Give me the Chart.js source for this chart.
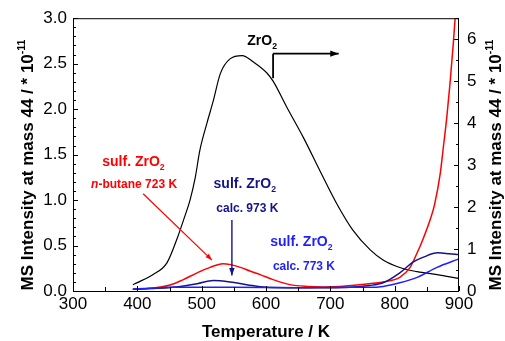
<!DOCTYPE html>
<html>
<head>
<meta charset="utf-8">
<script src="https://cdn.jsdelivr.net/npm/chart.js@4.4.1/dist/chart.umd.min.js"></script>
<style>
  html, body { margin: 0; padding: 0; background: #fff; }
</style>
</head>
<body>
<canvas id="chart" width="505" height="341"></canvas>
<script>
// ZrO2 (right axis)
const zrTemp = [393, 400, 424, 446, 463, 472, 482, 490, 497, 508, 518, 529, 544, 563, 580, 601, 611, 633, 658, 684, 710, 735, 762, 782, 808, 835, 866, 899]
const zrValue = [0.15, 0.20, 0.39, 0.67, 1.30, 1.70, 2.17, 2.70, 3.34, 3.99, 4.53, 5.18, 5.53, 5.61, 5.46, 5.20, 5.00, 4.36, 3.66, 2.86, 2.08, 1.45, 0.98, 0.74, 0.56, 0.46, 0.39, 0.30]

// sulf. ZrO2, n-butane 723 K (left axis)
const butTemp = [393, 420, 451, 470, 493, 513, 533, 545, 560, 575, 591, 611, 637, 664, 690, 715, 741, 760, 782, 808, 824, 835, 844, 855, 862, 871, 875, 881, 886, 891, 894, 898]
const butValue = [0.02, 0.03, 0.066, 0.12, 0.20, 0.26, 0.30, 0.29, 0.26, 0.22, 0.18, 0.125, 0.07, 0.05, 0.045, 0.05, 0.065, 0.08, 0.10, 0.15, 0.26, 0.42, 0.57, 0.78, 0.95, 1.30, 1.54, 1.91, 2.28, 2.71, 3.0, 3.3]

// sulf. ZrO2, calc. 973 K (left axis)
const c973Temp = [393, 430, 460, 493, 518, 544, 570, 600, 650, 700, 731, 760, 782, 808, 829, 844, 867, 885, 899]
const c973Value = [0.02, 0.03, 0.045, 0.08, 0.115, 0.10, 0.07, 0.04, 0.035, 0.035, 0.04, 0.06, 0.09, 0.20, 0.32, 0.37, 0.42, 0.41, 0.40]

// sulf. ZrO2, calc. 773 K (left axis)
const c773Temp = [393, 420, 450, 550, 650, 720, 760, 782, 808, 835, 866, 899]
const c773Value = [0.02, 0.03, 0.04, 0.04, 0.035, 0.04, 0.04, 0.05, 0.09, 0.15, 0.26, 0.35]

const xTicks = [300, 400, 500, 600, 700, 800, 900]
const yLeftTicks = [0, 0.5, 1.0, 1.5, 2.0, 2.5, 3.0]
const yRightTicks = [0, 1, 2, 3, 4, 5, 6]

const FONT = '"Liberation Sans", Arial, sans-serif'
const RED = '#ff0000'
const NAVY = '#141489'
const BLUE = '#1e1eff'

const toPoints = (xs, ys) => xs.map((x, i) => ({ x, y: ys[i] }))

// draw a run of text parts (normal / sub / sup / italic) starting at x
function drawParts(ctx, parts, x, y, size, color, align) {
  const widths = parts.map(p => {
    const s = p.sub || p.sup ? size * 0.62 : size
    ctx.font = `${p.italic ? 'italic ' : ''}bold ${s}px ${FONT}`
    return ctx.measureText(p.t).width
  })
  const total = widths.reduce((a, b) => a + b, 0)
  let cx = align === 'center' ? x - total / 2 : x
  ctx.fillStyle = color
  ctx.textBaseline = 'alphabetic'
  ctx.textAlign = 'left'
  parts.forEach((p, i) => {
    const s = p.sub || p.sup ? size * 0.62 : size
    ctx.font = `${p.italic ? 'italic ' : ''}bold ${s}px ${FONT}`
    let dy = 0
    if (p.sub) dy = size * 0.28
    if (p.sup) dy = -size * 0.45
    ctx.fillText(p.t, cx, y + dy)
    cx += widths[i]
  })
}

function arrow(ctx, x1, y1, x2, y2, color, width, head) {
  ctx.save()
  ctx.strokeStyle = color
  ctx.fillStyle = color
  ctx.lineWidth = width
  ctx.beginPath()
  ctx.moveTo(x1, y1)
  ctx.lineTo(x2, y2)
  ctx.stroke()
  const a = Math.atan2(y2 - y1, x2 - x1)
  ctx.beginPath()
  ctx.moveTo(x2, y2)
  ctx.lineTo(x2 - head * Math.cos(a - 0.35), y2 - head * Math.sin(a - 0.35))
  ctx.lineTo(x2 - head * Math.cos(a + 0.35), y2 - head * Math.sin(a + 0.35))
  ctx.closePath()
  ctx.fill()
  ctx.restore()
}

const decorations = {
  id: 'decorations',
  afterDraw(chart) {
    const ctx = chart.ctx
    const { x, y, y2 } = chart.scales
    const area = chart.chartArea
    ctx.save()

    // frame
    ctx.strokeStyle = '#000'
    ctx.lineWidth = 1
    ctx.strokeRect(area.left + 0.5, area.top + 0.5, area.right - area.left - 1, area.bottom - area.top)

    // inward ticks
    ctx.beginPath()
    for (let t = 300; t <= 900; t += 50) {
      const px = Math.round(x.getPixelForValue(t)) + 0.5
      ctx.moveTo(px, area.bottom)
      ctx.lineTo(px, area.bottom - (t % 100 === 0 ? 5 : 4))
    }
    for (let k = 0; k <= 30; k++) {
      const py = Math.round(y.getPixelForValue(k / 10)) + 0.5
      ctx.moveTo(area.left, py)
      ctx.lineTo(area.left + (k % 5 === 0 ? 5 : 3), py)
    }
    for (let k = 0; k <= 13; k++) {
      const py = Math.round(y2.getPixelForValue(k / 2)) + 0.5
      ctx.moveTo(area.right, py)
      ctx.lineTo(area.right - (k % 2 === 0 ? 5 : 3), py)
    }
    ctx.stroke()

    // axis titles
    const titleParts = [{ t: 'MS Intensity at mass 44 / * 10' }, { t: '-11', sup: true }]
    ctx.save()
    ctx.translate(33, 165)
    ctx.rotate(-Math.PI / 2)
    drawParts(ctx, titleParts, 0, 0, 17, '#000', 'center')
    ctx.restore()
    ctx.save()
    ctx.translate(501, 165)
    ctx.rotate(-Math.PI / 2)
    drawParts(ctx, titleParts, 0, 0, 17, '#000', 'center')
    ctx.restore()
    drawParts(ctx, [{ t: 'Temperature / K' }], (area.left + area.right) / 2, 337, 17, '#000', 'center')

    // annotations (positioned in data units)
    const X = v => x.getPixelForValue(v)
    const Y = v => y.getPixelForValue(v)

    drawParts(ctx, [{ t: 'ZrO' }, { t: '2', sub: true }], X(594), Y(2.70), 14, '#000', 'center')
    ctx.strokeStyle = '#000'
    ctx.lineWidth = 1.8
    ctx.beginPath()
    ctx.moveTo(X(611), Y(2.34))
    ctx.lineTo(X(611), Y(2.61))
    ctx.stroke()
    arrow(ctx, X(611), Y(2.61), X(713), Y(2.61), '#000', 1.8, 9)

    drawParts(ctx, [{ t: 'sulf. ZrO' }, { t: '2', sub: true }], X(394), Y(1.37), 14, RED, 'center')
    drawParts(ctx, [{ t: 'n', italic: true }, { t: '-butane 723 K' }], X(395), Y(1.13), 12, RED, 'center')
    arrow(ctx, X(409), Y(1.07), X(516), Y(0.34), RED, 1.2, 7)

    drawParts(ctx, [{ t: 'sulf. ZrO' }, { t: '2', sub: true }], X(567), Y(1.13), 14, NAVY, 'center')
    drawParts(ctx, [{ t: 'calc. 973 K' }], X(571), Y(0.87), 12, NAVY, 'center')
    arrow(ctx, X(547), Y(0.78), X(547), Y(0.17), NAVY, 1.4, 8)

    drawParts(ctx, [{ t: 'sulf. ZrO' }, { t: '2', sub: true }], X(655), Y(0.49), 14, BLUE, 'center')
    drawParts(ctx, [{ t: 'calc. 773 K' }], X(659), Y(0.23), 12, BLUE, 'center')

    ctx.restore()
  }
}

const lineStyle = { pointRadius: 0, cubicInterpolationMode: 'monotone', fill: false }
const noGrid = { display: false, drawTicks: false }

new Chart(document.getElementById('chart'), {
  type: 'line',
  data: {
    datasets: [
      { ...lineStyle, label: 'calc. 773 K', data: toPoints(c773Temp, c773Value), borderColor: BLUE, borderWidth: 1.5, yAxisID: 'y' },
      { ...lineStyle, label: 'calc. 973 K', data: toPoints(c973Temp, c973Value), borderColor: NAVY, borderWidth: 1.5, yAxisID: 'y' },
      { ...lineStyle, label: 'n-butane 723 K', data: toPoints(butTemp, butValue), borderColor: RED, borderWidth: 1.5, yAxisID: 'y' },
      { ...lineStyle, label: 'ZrO2', data: toPoints(zrTemp, zrValue), borderColor: '#000', borderWidth: 1.2, yAxisID: 'y2' }
    ]
  },
  options: {
    responsive: false,
    animation: false,
    layout: { padding: { top: 17, left: 0, right: 0, bottom: 0 } },
    plugins: { legend: { display: false }, tooltip: { enabled: false } },
    scales: {
      x: {
        type: 'linear', min: 300, max: 900,
        afterBuildTicks: s => { s.ticks = xTicks.map(v => ({ value: v })) },
        afterFit: s => { s.height = 50 },
        grid: noGrid,
        border: { display: false },
        ticks: { color: '#000', padding: 3, maxRotation: 0, font: { family: FONT, size: 17 } }
      },
      y: {
        min: 0, max: 3,
        afterBuildTicks: s => { s.ticks = yLeftTicks.map(v => ({ value: v })) },
        afterFit: s => { s.width = 73 },
        grid: noGrid,
        border: { display: false },
        ticks: { color: '#000', padding: 6, callback: v => v.toFixed(1), font: { family: FONT, size: 17 } }
      },
      y2: {
        position: 'right', min: 0, max: 6.5,
        afterBuildTicks: s => { s.ticks = yRightTicks.map(v => ({ value: v })) },
        afterFit: s => { s.width = 46 },
        grid: noGrid,
        border: { display: false },
        ticks: { color: '#000', padding: 8, font: { family: FONT, size: 17 } }
      }
    }
  },
  plugins: [decorations]
})
</script>
</body>
</html>
